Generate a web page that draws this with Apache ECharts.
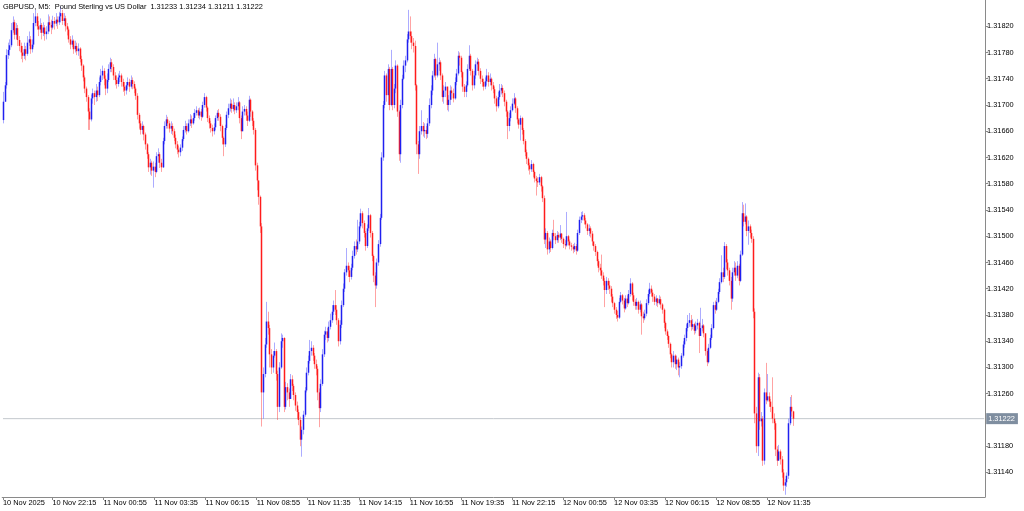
<!DOCTYPE html>
<html>
<head>
<meta charset="utf-8">
<title>GBPUSD M5</title>
<script src="https://cdn.jsdelivr.net/npm/echarts@6/dist/echarts.min.js"></script>
<style>
html, body { margin: 0; padding: 0; background: #fff; }
#chart { width: 1024px; height: 511px; }
</style>
</head>
<body>
<div id="chart"></div>
<script>
// prices as points above 1.31000 (1 point = 0.00001), one entry per M5 bar
const firstOpen = 677;
const closeP = [
  705,730,776,784,791,814,826,807,817,799, 790,780,775,785,778,795,800,785,792,825,
  835,820,815,822,810,818,808,812,826,822, 818,828,824,830,826,835,840,828,832,820,
  815,800,792,798,785,790,782,786,770,760, 742,725,712,690,678,710,718,712,722,715,
  735,745,752,740,725,738,755,765,758,745, 738,732,742,745,735,728,722,730,735,728,
  738,732,725,714,685,672,662,668,655,640, 625,605,612,600,606,598,622,625,612,605,
  645,668,678,672,664,668,660,650,640,632, 628,635,648,662,668,660,672,678,672,680,
  688,692,684,690,682,700,712,696,680,672, 665,660,666,680,688,682,668,650,640,665,
  685,695,702,694,700,692,698,704,680,660, 690,694,684,676,708,690,676,662,608,585,
  560,515,262,290,335,370,360,320,300,318, 325,290,240,300,340,345,240,270,262,252,
  282,272,258,242,232,220,190,205,228,265, 292,310,325,330,318,305,298,262,238,275,
  320,350,355,345,362,372,385,395,388,372, 340,365,395,420,445,455,448,438,452,470,
  485,480,492,515,535,520,505,485,512,532, 505,470,440,425,460,488,528,620,700,745,
  715,755,700,755,700,725,760,690,625,700, 740,760,768,800,812,805,795,790,730,640,
  625,660,668,660,662,656,672,700,722,745, 770,745,762,765,745,712,722,728,700,708,
  722,718,710,735,748,775,772,750,728,720, 730,755,775,752,730,745,762,766,752,740,
  735,728,736,745,735,740,730,724,710,698, 712,722,726,718,705,690,668,680,692,702,
  710,695,678,670,680,662,645,628,618,608, 602,610,598,588,584,582,590,576,558,495,
  505,480,492,482,505,500,494,502,498,504, 496,488,486,500,492,486,484,480,485,478,
  505,525,530,532,524,518,508,512,504,492, 485,476,462,452,448,440,432,418,432,425,
  420,408,398,388,380,376,400,410,402,390, 405,398,412,428,410,400,394,400,388,396,
  378,375,382,398,412,420,414,408,400,405, 398,404,396,388,368,355,348,336,320,308,
  318,305,312,300,302,318,335,345,360,368, 372,362,366,356,364,368,348,360,364,352,
  325,308,330,345,360,395,388,400,415,430, 445,438,485,460,448,432,405,445,452,440,
  455,432,472,535,522,530,508,515,505,496, 385,230,180,285,218,222,158,262,250,256,
  248,240,222,215,175,158,172,160,140,120, 125,135,215,240,233,222
];
const highP = [
  720,735,785,795,800,825,835,830,825,822, 805,795,790,795,790,805,812,805,800,840,
  845,840,828,832,825,826,822,820,838,835, 830,836,834,840,835,842,850,845,840,836,
  825,818,805,806,800,798,795,794,788,775, 762,745,728,715,695,716,725,722,732,728,
  742,755,760,756,745,748,762,772,770,762, 750,745,748,752,748,740,735,735,742,740,
  745,742,736,728,718,688,676,675,670,658, 642,628,618,615,614,612,628,634,628,618,
  650,675,685,682,676,675,672,664,655,645, 638,640,652,668,676,672,678,686,684,688,
  694,698,695,696,694,705,718,714,698,684, 676,670,672,684,692,694,686,670,652,670,
  690,702,710,708,710,704,704,712,706,684, 698,700,698,690,714,710,692,680,665,612,
  585,562,520,300,345,400,385,365,328,325, 338,328,295,308,352,350,346,278,276,268,
  290,288,275,262,248,236,225,210,234,270, 300,318,342,340,334,322,312,302,268,282,
  328,356,362,360,370,382,395,402,418,395, 375,372,402,428,450,482,460,455,458,478,
  492,495,525,522,542,538,524,508,518,543, 534,508,472,445,466,494,534,628,706,752,
  748,762,758,784,758,732,768,762,692,708, 746,768,775,808,845,835,812,802,798,732,
  645,668,692,674,672,668,680,710,730,752, 778,772,795,772,768,748,730,735,725,715,
  730,728,725,742,755,782,780,775,752,732, 736,762,791,778,755,752,768,772,770,756,
  745,740,742,755,750,748,742,735,728,714, 720,732,732,730,722,708,692,688,698,710,
  718,712,698,680,684,682,665,648,632,620, 612,616,612,600,592,590,595,592,578,562,
  512,508,498,495,510,525,505,508,506,517, 505,498,494,537,502,495,490,488,490,488,
  510,530,537,538,535,528,520,518,515,508, 492,488,478,465,458,472,445,436,438,436,
  432,424,412,400,392,386,406,415,412,406, 410,410,418,436,430,414,404,406,402,402,
  398,385,388,404,418,429,425,418,412,410, 406,410,408,398,390,370,358,350,338,322,
  325,320,318,315,308,322,340,350,366,380, 383,380,374,368,370,374,370,391,374,366,
  346,328,336,350,366,400,402,406,420,436, 471,452,491,488,465,452,438,452,462,460,
  462,458,478,552,548,550,532,524,518,510, 500,390,240,292,290,232,226,268,307,290,
  262,252,285,230,218,180,182,175,165,145, 130,140,222,255,258,234
];
const lowP = [
  672,705,725,770,775,788,810,800,800,790, 782,770,765,770,768,775,790,778,780,788,
  820,815,805,810,800,805,798,800,808,812, 808,815,815,820,816,822,826,822,822,812,
  806,795,785,788,778,780,776,775,765,752, 736,718,705,662,662,675,702,700,705,706,
  712,730,738,730,715,718,735,750,750,738, 730,725,728,735,728,720,714,716,724,720,
  725,724,718,708,678,664,655,656,646,632, 618,598,594,592,574,590,596,612,604,598,
  604,640,664,664,658,656,654,645,634,625, 620,622,630,645,658,655,658,668,665,670,
  676,684,680,678,676,680,696,690,674,664, 658,652,655,662,676,676,660,640,622,636,
  662,680,690,688,690,686,688,692,672,648, 660,684,676,668,674,682,668,655,600,570,
  548,505,210,222,285,330,350,300,290,292, 315,280,220,232,298,330,232,236,250,240,
  255,264,250,234,222,212,180,164,198,225, 262,288,306,318,310,298,288,250,209,232,
  272,316,342,338,340,358,368,380,380,365, 332,335,360,392,415,440,438,430,434,448,
  466,472,476,488,512,512,498,478,482,508, 498,462,430,392,420,455,484,525,615,695,
  705,700,692,698,692,695,718,682,615,612, 695,738,750,765,795,795,785,780,722,625,
  595,618,655,652,650,648,650,668,695,715, 742,738,742,752,738,705,702,712,692,690,
  700,708,704,708,730,745,760,742,720,712, 712,728,752,745,722,725,740,752,745,732,
  728,722,724,730,728,730,722,718,702,690, 695,708,716,712,698,682,648,660,675,690,
  700,688,672,664,646,655,640,622,610,600, 594,598,590,582,562,575,578,568,552,488,
  482,472,474,476,480,494,488,490,490,494, 490,482,480,484,486,480,478,474,476,472,
  476,502,520,524,518,512,502,500,498,486, 478,470,455,445,440,435,425,392,412,418,
  412,400,392,382,374,370,374,398,396,384, 388,392,396,408,402,394,388,388,382,384,
  350,368,372,378,395,408,408,400,395,394, 392,396,390,382,360,350,342,330,314,300,
  300,298,296,288,285,298,315,330,340,355, 362,356,358,350,352,358,322,350,355,346,
  318,302,306,328,342,358,382,386,398,412, 428,430,435,450,440,425,388,400,440,432,
  436,425,430,470,515,518,500,487,498,490, 375,215,170,165,205,210,150,152,244,248,
  240,232,215,205,165,150,160,152,132,112, 106,118,130,212,225,211
];

const lastQuote = 1.31222;
const titleText = 'GBPUSD, M5:  Pound Sterling vs US Dollar  1.31233 1.31234 1.31211 1.31222';
const timeLabels = ['10 Nov 2025', '10 Nov 22:15', '11 Nov 00:55', '11 Nov 03:35', '11 Nov 06:15',
  '11 Nov 08:55', '11 Nov 11:35', '11 Nov 14:15', '11 Nov 16:55', '11 Nov 19:35', '11 Nov 22:15',
  '12 Nov 00:55', '12 Nov 03:35', '12 Nov 06:15', '12 Nov 08:55', '12 Nov 11:35'];
const labelBars = [0, 31, 63, 95, 127, 159, 191, 223, 255, 287, 319, 351, 383, 415, 447, 479];
const yTicks = [1.3114, 1.3118, 1.3126, 1.313, 1.3134, 1.3138, 1.3142, 1.3146, 1.315,
  1.3154, 1.3158, 1.3162, 1.3166, 1.317, 1.3174, 1.3178, 1.3182];
const slotCount = 616; // bar slots across the visible chart window

const toPrice = v => 1.31 + v / 100000;
const candles = closeP.map((c, i) => {
  const o = i === 0 ? firstOpen : closeP[i - 1];
  const h = Math.max(highP[i], o, c);
  const l = Math.min(lowP[i], o, c);
  return [i, toPrice(o), toPrice(c), toPrice(l), toPrice(h)];
});
const slots = Array.from({ length: slotCount }, (_, i) => String(i));

const font = 'Liberation Sans, Arial, sans-serif';
const showLabel = idx => labelBars.indexOf(idx) >= 0;

function renderCandle(params, api) {
  const i = api.value(0);
  const o = api.value(1), c = api.value(2);
  const pO = api.coord([i, o]);
  const pC = api.coord([i, c]);
  const pL = api.coord([i, api.value(3)]);
  const pH = api.coord([i, api.value(4)]);
  const bw = api.size([1, 0])[0] * 0.95;
  const up = c >= o;
  const x = Math.round(pO[0]) + 0.5;
  const top = Math.min(pO[1], pC[1]);
  const hgt = Math.max(1, Math.abs(pO[1] - pC[1]));
  return {
    type: 'group',
    children: [
      {
        type: 'line',
        shape: { x1: x, y1: pH[1], x2: x, y2: pL[1] },
        style: { stroke: up ? 'rgba(70,70,255,0.45)' : 'rgba(255,50,50,0.45)', lineWidth: 1 }
      },
      {
        type: 'rect',
        shape: { x: x - bw / 2, y: top, width: bw, height: hgt },
        style: { fill: up ? '#2020f0' : '#ff1c1c' }
      }
    ]
  };
}

const chart = echarts.init(document.getElementById('chart'));
const option = {
  animation: false,
  backgroundColor: '#ffffff',
  title: {
    text: titleText,
    left: 3,
    top: 3,
    padding: 0,
    textStyle: { fontSize: 7.4, fontWeight: 'normal', color: '#000', fontFamily: font }
  },
  grid: { left: 0, right: 39, top: 0, bottom: 14 },
  xAxis: {
    type: 'category',
    data: slots,
    boundaryGap: true,
    axisLine: { show: true, lineStyle: { color: '#8a8a8a', width: 1 } },
    axisTick: {
      show: true, alignWithLabel: true, length: 3,
      interval: showLabel,
      lineStyle: { color: '#8a8a8a' }
    },
    axisLabel: {
      interval: showLabel,
      formatter: (val, idx) => timeLabels[labelBars.indexOf(idx)],
      align: 'left',
      margin: 2,
      fontSize: 7.4,
      color: '#000',
      fontFamily: font
    },
    splitLine: { show: false }
  },
  yAxis: {
    type: 'value',
    position: 'right',
    min: 1.311026,
    max: 1.3186,
    axisLine: { show: true, lineStyle: { color: '#8a8a8a', width: 1 } },
    axisTick: { show: true, length: 3, customValues: yTicks, lineStyle: { color: '#8a8a8a' } },
    axisLabel: {
      customValues: yTicks,
      formatter: v => v.toFixed(5),
      margin: 2,
      fontSize: 7.4,
      color: '#000',
      fontFamily: font
    },
    splitLine: { show: false }
  },
  series: [
    {
      // current bid line with its price tag on the axis
      type: 'line',
      z: 1,
      silent: true,
      showSymbol: false,
      data: [[0, lastQuote], [slotCount - 1, lastQuote]],
      lineStyle: { color: '#c4c9ce', width: 1 },
      endLabel: {
        show: true,
        distance: 2,
        formatter: lastQuote.toFixed(5),
        backgroundColor: '#7f8ea0',
        color: '#fff',
        padding: [2, 3, 2, 2],
        fontSize: 7.4,
        fontFamily: font
      }
    },
    {
      type: 'custom',
      z: 2,
      renderItem: renderCandle,
      data: candles,
      encode: { x: 0, y: [1, 2, 3, 4] },
      clip: true
    }
  ]
};
chart.setOption(option);
window.addEventListener('resize', function () {
  chart.resize();
});
</script>
</body>
</html>
